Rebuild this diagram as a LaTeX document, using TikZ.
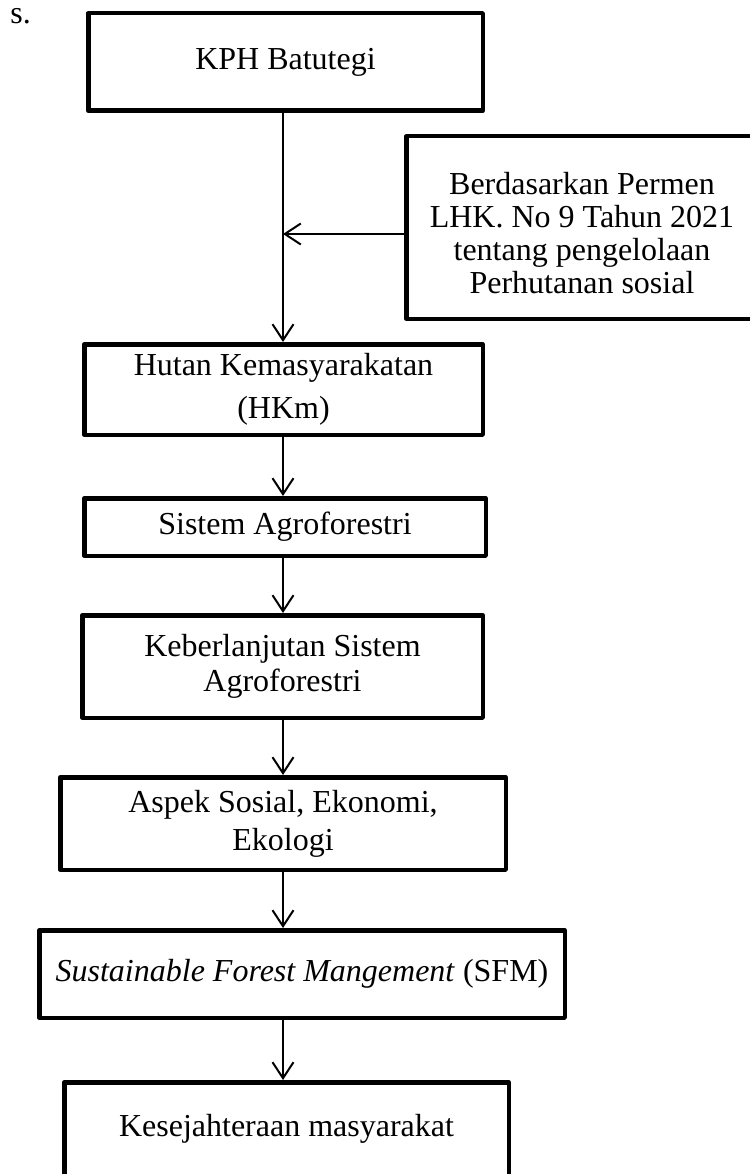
\documentclass[tikz,border=0pt]{standalone}
\usepackage{fontspec}
\setmainfont{Liberation Serif}
\usepackage{tikz}
\usetikzlibrary{positioning, arrows.meta}
\tikzset{kotak/.style={draw,line width=4.5pt,line join=round,align=center,inner sep=0pt}}
\tikzset{panah/.style={line width=2pt,-{Straight Barb[length=16pt,width=21pt]}}}

\begin{document}
\begin{tikzpicture}[x=1pt,y=-1pt, every node/.style={font=\fontsize{32}{33}\selectfont}]
        \useasboundingbox (0,0) rectangle (749,1174);
        %Sisa teks
        \node[anchor=base east,inner sep=0pt] (sisa) at (31,24) {s.};
        %Kotak
        \node[kotak,minimum width=394.5pt,minimum height=97.5pt] (kph) at (285.5,62) {KPH Batutegi};
        \node[kotak,minimum width=351.5pt,minimum height=182.5pt] (permen) at (582,227.5) {\rule{0pt}{34pt}Berdasarkan Permen\\LHK. No 9 Tahun 2021\\tentang pengelolaan\\Perhutanan sosial};
        \node[kotak,minimum width=398.5pt,minimum height=90.5pt,font=\fontsize{32}{43}\selectfont] (hkm) at (283.5,389.5) {Hutan Kemasyarakatan\\(HKm)};
        \node[kotak,minimum width=401.5pt,minimum height=57.5pt] (agro) at (285,527) {Sistem Agroforestri};
        \node[kotak,minimum width=400.5pt,minimum height=102.5pt,font=\fontsize{32}{35}\selectfont] (lanjut) at (282.5,666.5) {Keberlanjutan Sistem\\Agroforestri};
        \node[kotak,minimum width=445.5pt,minimum height=92.5pt,font=\fontsize{32}{38}\selectfont] (aspek) at (283,823.5) {Aspek Sosial, Ekonomi,\\Ekologi};
        \node[kotak,minimum width=525.5pt,minimum height=87.5pt] (sfm) at (302,974) {\textit{Sustainable Forest Mangement} (SFM)};
        \node[kotak,minimum width=444.5pt,minimum height=93.5pt] (sejahtera) at (286.5,1129) {\raisebox{5pt}{Kesejahteraan masyarakat}};
        %Panah
        \coordinate (sumbu) at (283,0);
        \coordinate (cabang) at (283,234);
        \draw[panah] (kph.south -| sumbu) -- (hkm.north -| sumbu);
        \draw[panah] (permen.west |- cabang) -- (cabang);
        \draw[panah] (hkm.south -| sumbu) -- (agro.north -| sumbu);
        \draw[panah] (agro.south -| sumbu) -- (lanjut.north -| sumbu);
        \draw[panah] (lanjut.south -| sumbu) -- (aspek.north -| sumbu);
        \draw[panah] (aspek.south -| sumbu) -- (sfm.north -| sumbu);
        \draw[panah] (sfm.south -| sumbu) -- (sejahtera.north -| sumbu);
\end{tikzpicture}
\end{document}
